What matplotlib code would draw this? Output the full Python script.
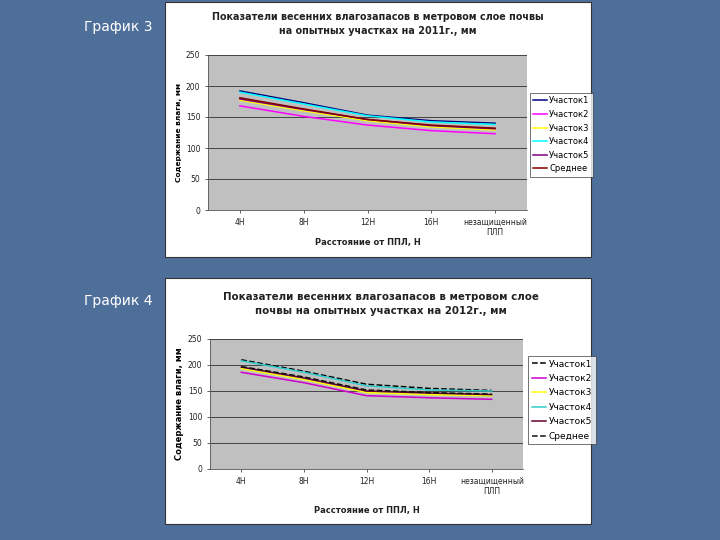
import matplotlib.pyplot as plt
from matplotlib.patches import Rectangle

# Данные
categories = ["4Н", "8Н", "12Н", "16Н", "незащищенный\nПЛП"]
series_names = ["Участок1", "Участок2", "Участок3", "Участок4", "Участок5", "Среднее"]

y2011_u1 = [192, 173, 153, 144, 140]
y2011_u2 = [168, 151, 137, 128, 123]
y2011_u3 = [177, 160, 144, 134, 129]
y2011_u4 = [190, 171, 152, 142, 138]
y2011_u5 = [179, 162, 146, 136, 131]
y2011_avg = [181, 163, 146, 137, 132]

y2012_u1 = [210, 188, 163, 155, 151]
y2012_u2 = [186, 166, 141, 137, 134]
y2012_u3 = [193, 172, 147, 143, 141]
y2012_u4 = [208, 186, 160, 152, 150]
y2012_u5 = [196, 175, 150, 146, 143]
y2012_avg = [197, 177, 152, 147, 144]

W, H = 720, 540
fig = plt.figure(figsize=(7.2, 5.4), dpi=100)
fig.patch.set_facecolor("#4f6f9b")


def box(x0, y0, x1, y1):
    # пиксели -> доли фигуры
    return [x0 / W, 1 - y1 / H, (x1 - x0) / W, (y1 - y0) / H]


# белые панели диаграмм
for (x0, y0, x1, y1) in [(165, 2, 591, 257), (165, 278, 591, 524)]:
    b = box(x0, y0, x1, y1)
    fig.patches.append(Rectangle((b[0], b[1]), b[2], b[3], transform=fig.transFigure,
                                 facecolor="white", edgecolor="#333333", lw=0.8, zorder=0))

fig.text(84 / W, 1 - 27 / H, "График 3", color="white", fontsize=10, va="center")
fig.text(84 / W, 1 - 301 / H, "График 4", color="white", fontsize=10, va="center")


def draw_chart(rect, data, colors, styles, title, title_xy, title_fs, leg_rect, leg_fs,
               leg_sp, xlab_y, ylab_fs):
    ax = fig.add_axes(box(*rect), zorder=2)
    ax.set_facecolor("#c0c0c0")
    x = range(len(categories))
    for vals, name, c, ls in zip(data, series_names, colors, styles):
        ax.plot(x, vals, color=c, lw=1.1, ls=ls, label=name, zorder=3)
    ax.set_xlim(-0.5, len(categories) - 0.5)
    ax.set_ylim(0, 250)
    ax.set_yticks(range(0, 251, 50))
    ax.set_xticks(list(x))
    ax.set_xticklabels(categories)
    ax.tick_params(labelsize=5.5, length=2, width=0.5, colors="#222222")
    ax.yaxis.grid(True, color="#444444", lw=0.7)
    ax.set_axisbelow(True)
    for s in ["top", "right"]:
        ax.spines[s].set_visible(False)
    for s in ["left", "bottom"]:
        ax.spines[s].set_color("#555555")
        ax.spines[s].set_linewidth(0.6)
    ax.set_ylabel("Содержание влаги, мм", fontsize=ylab_fs, fontweight="bold", labelpad=3)
    fig.text(title_xy[0] / W, 1 - title_xy[1] / H, title, ha="center", va="center",
             fontsize=title_fs, fontweight="bold", color="#222222", linespacing=1.45, zorder=3)
    fig.text((rect[0] + rect[2]) / 2 / W, 1 - xlab_y / H, "Расстояние от ППЛ, Н",
             ha="center", va="center", fontsize=6, fontweight="bold", color="#222222", zorder=3)
    lb = box(*leg_rect)
    leg = ax.legend(loc="upper left", bbox_to_anchor=(lb[0], lb[1] + lb[3]),
                    bbox_transform=fig.transFigure, fontsize=leg_fs, frameon=True,
                    fancybox=False, handlelength=1.6, labelspacing=leg_sp,
                    borderpad=0.4, handletextpad=0.3, borderaxespad=0)
    leg.get_frame().set_edgecolor("#333333")
    leg.get_frame().set_linewidth(0.6)
    return ax


draw_chart((208, 55, 527, 210),
           [y2011_u1, y2011_u2, y2011_u3, y2011_u4, y2011_u5, y2011_avg],
           ["#000080", "#ff00ff", "#ffff00", "#00ffff", "#800080", "#800000"],
           ["-"] * 6,
           "Показатели весенних влагозапасов в метровом слое почвы\nна опытных участках на 2011г., мм",
           (378, 24), 6.9, (530, 93, 590, 170), 6.0, 0.55, 243, 5.3)

draw_chart((210, 339, 523, 469),
           [y2012_u1, y2012_u2, y2012_u3, y2012_u4, y2012_u5, y2012_avg],
           ["#000000", "#cc00cc", "#ffff00", "#33cccc", "#660033", "#111111"],
           ["--", "-", "-", "-", "-", "--"],
           "Показатели весенних влагозапасов в метровом слое\nпочвы на опытных участках на 2012г., мм",
           (381, 304), 7.4, (528, 356, 597, 446), 6.5, 0.6, 510, 6)

fig.savefig("out.png", dpi=100, facecolor=fig.get_facecolor())
